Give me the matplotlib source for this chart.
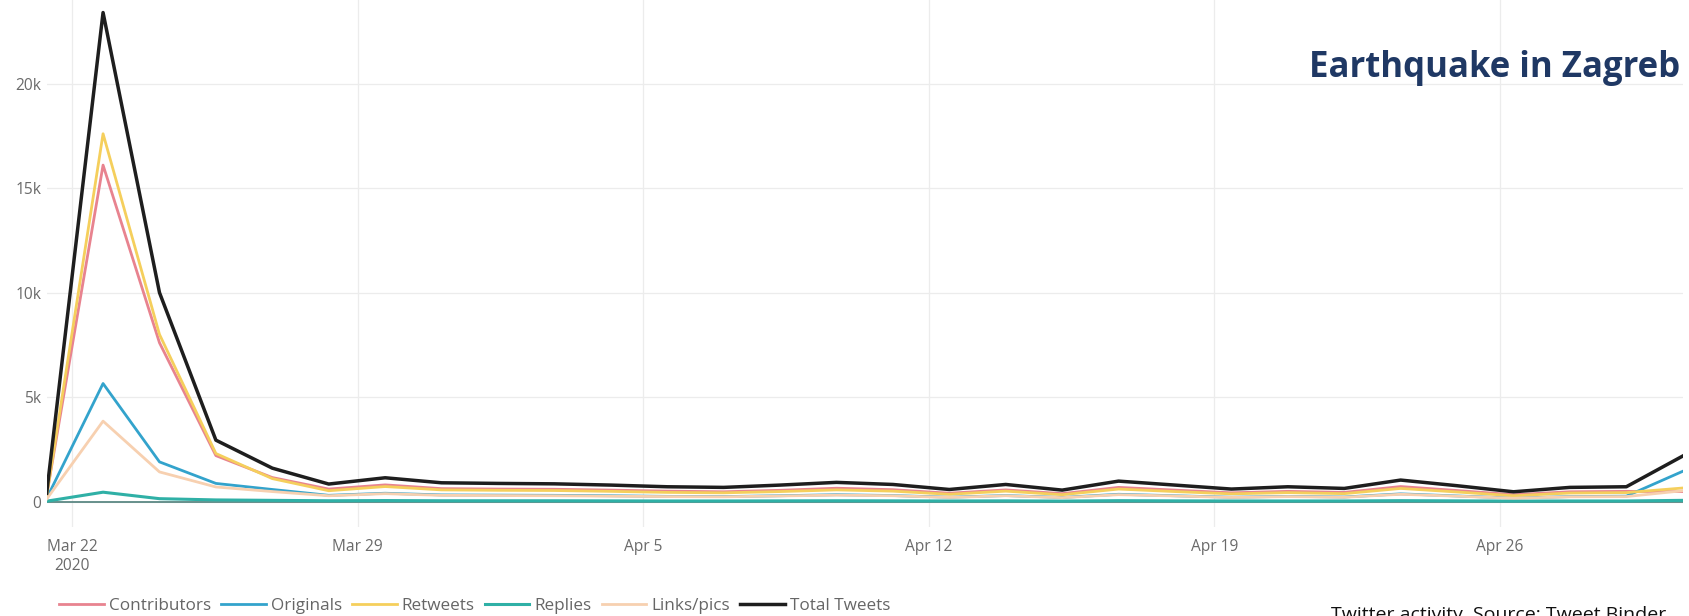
import pandas as pd
import matplotlib.pyplot as plt
import matplotlib.dates as mdates
from matplotlib.ticker import FuncFormatter

# 30 samples between these two moments
times = pd.date_range('2020-03-21 09:00', '2020-04-30 11:30', periods=30)

total = [400, 23400, 10000, 2940, 1600, 840, 1140, 900, 870, 850, 790, 710, 680, 790, 920,
         820, 580, 820, 550, 980, 790, 600, 710, 630, 1030, 760, 470, 680, 710, 2180]
contributors = [300, 16100, 7600, 2200, 1150, 600, 800, 620, 600, 590, 550, 500, 470, 540, 640,
                570, 400, 560, 380, 680, 550, 420, 490, 440, 720, 530, 330, 470, 490, 480]
retweets = [250, 17600, 8000, 2300, 1100, 520, 720, 560, 540, 530, 490, 440, 420, 480, 560,
            500, 350, 500, 330, 600, 480, 370, 430, 380, 630, 460, 280, 410, 430, 650]
originals = [150, 5650, 1900, 870, 580, 300, 400, 320, 310, 300, 280, 250, 240, 280, 330,
             290, 210, 290, 200, 350, 280, 210, 250, 220, 370, 270, 170, 240, 260, 1450]
links = [120, 3850, 1420, 700, 480, 280, 380, 300, 290, 280, 260, 240, 230, 270, 310,
         280, 200, 280, 190, 330, 270, 200, 240, 210, 350, 260, 160, 230, 240, 520]
replies = [20, 450, 140, 80, 60, 40, 50, 40, 40, 40, 35, 30, 30, 35, 40,
           35, 30, 35, 25, 45, 35, 30, 30, 30, 45, 35, 25, 30, 30, 60]

tick_days = ['2020-03-22', '2020-03-29', '2020-04-05', '2020-04-12', '2020-04-19', '2020-04-26']
tick_labels = ['Mar 22\n2020', 'Mar 29', 'Apr 5', 'Apr 12', 'Apr 19', 'Apr 26']

series = [
    ('Contributors', contributors, '#e8838f', 2.0),
    ('Originals', originals, '#33a3cc', 2.0),
    ('Retweets', retweets, '#f5cf5c', 2.0),
    ('Replies', replies, '#2fb0a6', 2.2),
    ('Links/pics', links, '#f7d0b0', 2.0),
    ('Total Tweets', total, '#1e1e1e', 2.5),
]

plt.rcParams['font.family'] = ['Open Sans', 'DejaVu Sans']

fig = plt.figure(figsize=(16.9, 6.16), dpi=100)
ax = fig.add_axes([0.0276, 0.145, 0.9681, 0.855])

ax.axhline(0, color='#4f7f7a', lw=1.2, zorder=1)
for name, vals, col, lw in series:
    ax.plot(times, vals, color=col, lw=lw, label=name, zorder=2)

ax.set_xlim(times[0], times[-1])
ax.set_ylim(-1200, 24000)
ax.set_yticks([0, 5000, 10000, 15000, 20000])
ax.yaxis.set_major_formatter(FuncFormatter(lambda v, p: '0' if v == 0 else '%dk' % (v / 1000)))
ax.set_xticks(mdates.date2num(pd.to_datetime(tick_days)))
ax.set_xticklabels(tick_labels)

ax.grid(True, color='#ececec', lw=0.9)
ax.set_axisbelow(True)
for s in ax.spines.values():
    s.set_visible(False)
ax.tick_params(length=0, colors='#6a6a6a', labelsize=11.2)
ax.tick_params(axis='y', pad=4)
ax.tick_params(axis='x', pad=9)

leg = fig.legend(loc='lower left', bbox_to_anchor=(0.026, -0.021), ncol=6, frameon=False,
                 fontsize=12.3, handlelength=2.6, handletextpad=0.3, columnspacing=0.6)
for t in leg.get_texts():
    t.set_color('#666666')

fig.text(0.994, 0.8755, 'Earthquake in Zagreb', ha='right', va='baseline',
         fontsize=25, fontweight='bold', color='#1f3864')
fig.text(0.986, 0.016, 'Twitter activity. Source: Tweet Binder', ha='right', va='top',
         fontsize=14, color='#111111')

fig.savefig('out.png', dpi=100)
